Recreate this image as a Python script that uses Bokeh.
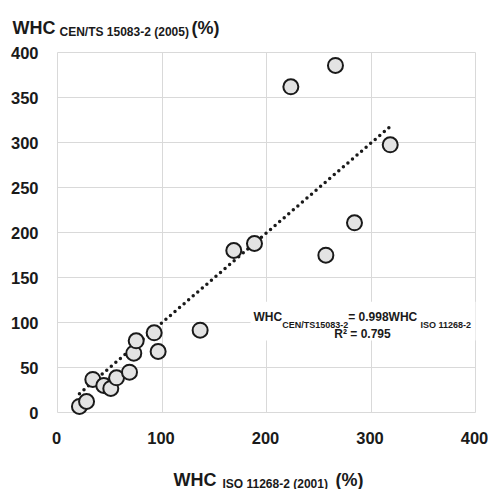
from bokeh.plotting import figure
from bokeh.models import Range1d, Label, FixedTicker, ColumnDataSource, Grid
from bokeh.core.properties import value
from bokeh.embed import file_html
from bokeh.resources import INLINE

# data (WHC ISO 11268-2 vs WHC CEN/TS 15083-2)
whc_iso = [21.0, 27.8, 33.8, 44.3, 51.0, 56.5, 68.9, 73.0, 75.3, 92.5, 96.3,
           136.5, 168.7, 188.5, 223.3, 256.8, 266.0, 284.2, 318.4]
whc_cen = [6.7, 12.2, 36.7, 30.0, 26.7, 38.5, 44.8, 65.9, 79.6, 88.5, 67.8,
           91.5, 180.0, 187.8, 361.9, 174.8, 385.6, 210.8, 297.4]
slope = 0.998
x_ticks = [0, 100, 200, 300, 400]
x_tick_labels = ["0", "100", "200", "300", "400"]
y_ticks = [0, 50, 100, 150, 200, 250, 300, 350, 400]
y_tick_labels = ["0", "50", "100", "150", "200", "250", "300", "350", "400"]

FONT = "Liberation Sans"
INK = "#1a1a1a"

W, H = 488, 489
# plot area inside the canvas: left, right, top, bottom (pixels)
PL, PR, PT, PB = 57, 475, 52, 412
sx = (PR - PL) / 400.0
sy = (PB - PT) / 400.0

p = figure(width=W, height=H, output_backend="svg", toolbar_location=None,
           x_axis_location=None, y_axis_location=None,
           x_range=Range1d(-PL / sx, 400 + (W - PR) / sx),
           y_range=Range1d(-(H - PB) / sy, 400 + PT / sy),
           min_border=0)
p.outline_line_color = None
p.background_fill_color = "white"
p.border_fill_color = "white"
p.xgrid.visible = False
p.ygrid.visible = False

grid_ok = True
try:
    gx = Grid(dimension=0, ticker=FixedTicker(ticks=x_ticks), bounds=(0, 400), cross_bounds=(0, 400),
              grid_line_color="#d9d9d9", grid_line_width=1)
    gy = Grid(dimension=1, ticker=FixedTicker(ticks=y_ticks), bounds=(0, 400), cross_bounds=(0, 400),
              grid_line_color="#d9d9d9", grid_line_width=1)
    p.add_layout(gx)
    p.add_layout(gy)
except Exception:
    grid_ok = False
if not grid_ok:
    p.segment(x0=x_ticks, x1=x_ticks, y0=[0] * len(x_ticks), y1=[400] * len(x_ticks),
              line_color="#d9d9d9", line_width=1)
    p.segment(x0=[0] * len(y_ticks), x1=[400] * len(y_ticks), y0=y_ticks, y1=y_ticks,
              line_color="#d9d9d9", line_width=1)

# tick labels
p.text(x=x_ticks, y=[0] * len(x_ticks), text=x_tick_labels, y_offset=25, x_offset=-1,
       text_align="center", text_baseline="middle", text_font=value(FONT),
       text_font_style="bold", text_font_size="16.5px", text_color=INK)
p.text(x=[0] * len(y_ticks), y=y_ticks, text=y_tick_labels, x_offset=-19,
       text_align="right", text_baseline="middle", text_font=value(FONT),
       text_font_style="bold", text_font_size="16.5px", text_color=INK)

# white box behind the equation
p.quad(left=[184.7], right=[400], bottom=[80], top=[123], fill_color="white", line_color=None)

# trend line
tx = [min(whc_iso), max(whc_iso)]
ty = [slope * v for v in tx]
p.line(tx, ty, line_color=INK, line_width=3.5, line_dash="0 6", line_cap="round")

src = ColumnDataSource(dict(x=whc_iso, y=whc_cen))
p.scatter("x", "y", source=src, size=15, fill_color="#e3e3e3", line_color=INK, line_width=2)

def lab(x, y, text, size, align="left"):
    p.add_layout(Label(x=x, y=y, x_units="screen", y_units="screen", text=text,
                       text_font=FONT, text_font_style="bold", text_font_size=size,
                       text_color=INK, text_align=align, text_baseline="alphabetic"))

# y axis title (top-left)
lab(12, 462, "WHC", "18px")
lab(59, 458, "CEN/TS 15083-2 (2005)", "12px")
lab(191, 462, "(%)", "18px")
# x axis title (bottom)
lab(173, 10, "WHC", "18px")
lab(222, 6, "ISO 11268-2 (2001)", "12px")
lab(335, 10, "(%)", "18px")
# equation
lab(253, 173, "WHC", "12px")
lab(281.7, 165, "CEN/TS15083-2", "9px")
lab(347.7, 173, " = 0.998WHC", "12px")
lab(420, 165, "ISO 11268-2", "9px")
lab(362, 156, "R² = 0.795", "12px", "center")

open("out.html", "w").write(file_html(p, INLINE))
